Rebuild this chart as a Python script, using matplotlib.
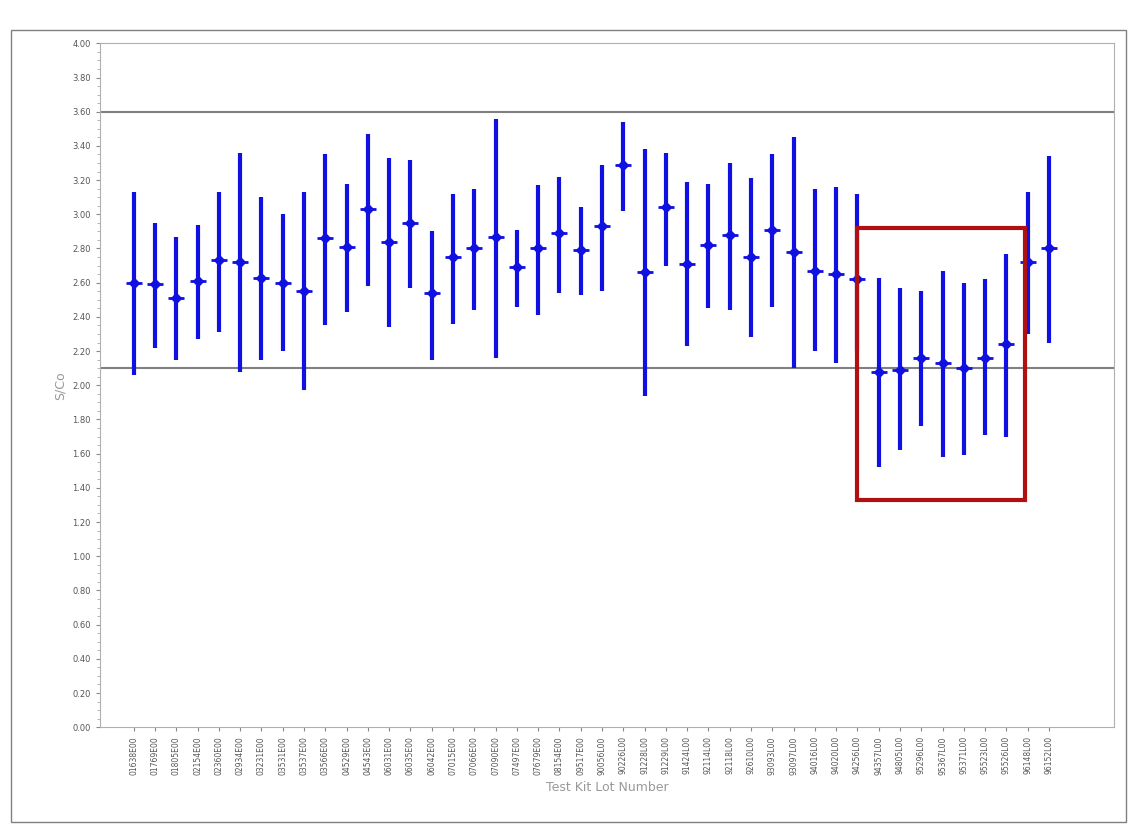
import matplotlib.pyplot as plt
from matplotlib.patches import Rectangle

lots = ['01638E00', '01769E00', '01805E00', '02154E00', '02360E00', '02934E00', '03231E00',
        '03531E00', '03537E00', '03566E00', '04529E00', '04543E00', '06031E00', '06035E00',
        '06042E00', '07015E00', '07066E00', '07090E00', '07497E00', '07679E00', '08154E00',
        '09517E00', '90056L00', '90226L00', '91228L00', '91229L00', '91424L00', '92114L00',
        '92118L00', '92610L00', '93093L00', '93097L00', '94016L00', '94020L00', '94256L00',
        '94357L00', '94805L00', '95296L00', '95367L00', '95371L00', '95523L00', '95526L00',
        '96148L00', '96152L00']
mean = [2.60, 2.59, 2.51, 2.61, 2.73, 2.72, 2.63, 2.60, 2.55, 2.86, 2.81, 3.03, 2.84, 2.95,
        2.54, 2.75, 2.80, 2.87, 2.69, 2.80, 2.89, 2.79, 2.93, 3.29, 2.66, 3.04, 2.71, 2.82,
        2.88, 2.75, 2.91, 2.78, 2.67, 2.65, 2.62, 2.08, 2.09, 2.16, 2.13, 2.10, 2.16, 2.24,
        2.72, 2.80]
low = [2.06, 2.22, 2.15, 2.27, 2.31, 2.08, 2.15, 2.20, 1.97, 2.35, 2.43, 2.58, 2.34, 2.57,
       2.15, 2.36, 2.44, 2.16, 2.46, 2.41, 2.54, 2.53, 2.55, 3.02, 1.94, 2.70, 2.23, 2.45,
       2.44, 2.28, 2.46, 2.10, 2.20, 2.13, 2.20, 1.52, 1.62, 1.76, 1.58, 1.59, 1.71, 1.70,
       2.30, 2.25]
high = [3.13, 2.95, 2.87, 2.94, 3.13, 3.36, 3.10, 3.00, 3.13, 3.35, 3.18, 3.47, 3.33, 3.32,
        2.90, 3.12, 3.15, 3.56, 2.91, 3.17, 3.22, 3.04, 3.29, 3.54, 3.38, 3.36, 3.19, 3.18,
        3.30, 3.21, 3.35, 3.45, 3.15, 3.16, 3.12, 2.63, 2.57, 2.55, 2.67, 2.60, 2.62, 2.77,
        3.13, 3.34]
limits = [3.60, 2.10]

fig = plt.figure(figsize=(11.45, 8.33), dpi=100)
# outer frame
fig.patches.append(Rectangle((0.010, 0.013), 0.973, 0.951, transform=fig.transFigure,
                             fill=False, edgecolor='#808080', linewidth=1))
ax = fig.add_axes([0.087, 0.127, 0.886, 0.821])

for v in limits:
    ax.axhline(v, color='#808080', linewidth=1.5, zorder=1)

x = list(range(len(lots)))
for i in x:
    ax.plot([i, i], [low[i], high[i]], color='#1010e0', linewidth=3,
            solid_capstyle='butt', zorder=2)
ax.plot(x, mean, linestyle='none', marker='D', markersize=5, color='#1010e0', zorder=3)
ax.plot(x, mean, linestyle='none', marker='_', markersize=12, markeredgewidth=2,
        color='#1010e0', zorder=3)

ax.add_patch(Rectangle((33.99, 1.33), 7.9, 1.59, fill=False, edgecolor='#b01010',
                       linewidth=3, zorder=5))

ax.set_xlim(-1.6, 46.06)
ax.set_ylim(0, 4.0)
ax.set_yticks([i * 0.2 for i in range(21)])
ax.set_yticklabels(['%.2f' % (i * 0.2) for i in range(21)], fontsize=6)
ax.set_yticks([i * 0.05 for i in range(81)], minor=True)
ax.set_xticks(x)
ax.set_xticklabels(lots, rotation=90, fontsize=5.5)
ax.tick_params(colors='#888888', labelcolor='#555555', length=3)
ax.tick_params(which='minor', length=2, colors='#aaaaaa')
for s in ax.spines.values():
    s.set_color('#b0b0b0')
ax.set_ylabel('S/Co', fontsize=9, color='#999999')
ax.set_xlabel('Test Kit Lot Number', fontsize=9, color='#999999')

plt.savefig('out.png')
